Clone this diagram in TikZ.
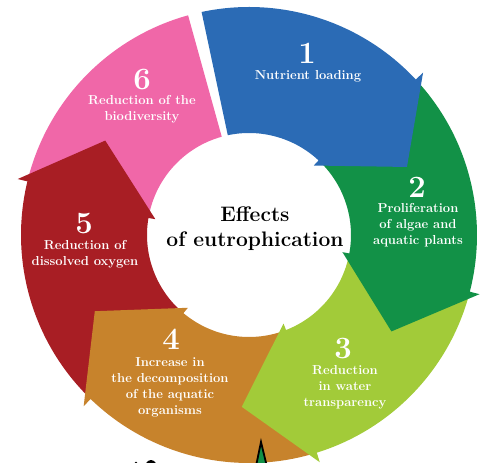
\documentclass[tikz,border=0pt]{standalone}
\usepackage{tikz}
\usetikzlibrary{positioning}
\usepackage{xcolor}

\definecolor{nutblue}{RGB}{43,107,181}
\definecolor{algaegreen}{RGB}{18,145,71}
\definecolor{lightgreen}{RGB}{162,203,57}
\definecolor{decorange}{RGB}{199,131,44}
\definecolor{oxyred}{RGB}{168,30,36}
\definecolor{biopink}{RGB}{240,103,168}

% ring radii (pt)
\def\rin{102}
\def\rout{228}
\def\rtip{172}

% one curved arrow of the ring: colour, tail angle outside, tail angle inside, head angle
\newcommand{\ringarrow}[4]{%
  \fill[#1] (#2:\rout) arc[start angle=#2, end angle=#4, radius=\rout]
    -- ({#4}:{\rout+10}) -- ({#4-19.7}:\rtip) -- ({#4+4}:{\rin-7}) -- ({#4+4}:\rin)
    arc[start angle={#4+4}, end angle=#3, radius=\rin] -- cycle;}

\tikzset{
  num/.style={text=white, font=\fontsize{31}{31}\selectfont\bfseries, inner sep=0pt},
  lbl/.style={text=white, font=\fontsize{13}{16}\selectfont\bfseries, align=center, inner sep=0pt},
  title/.style={text=black, font=\fontsize{21}{25}\selectfont\bfseries, align=center}
}

\begin{document}
\begin{tikzpicture}[x=1pt, y=1pt]
    \useasboundingbox (-249,-228) rectangle (241,235);
    \clip (-249,-228) rectangle (241,235);

    % Reduction of the biodiversity (flat end)
    \fill[biopink] (164.9:\rout) arc[start angle=164.9, end angle=105.5, radius=\rout]
        -- (105.5:\rin) arc[start angle=105.5, end angle=168.9, radius=\rin] -- cycle;

    % the other five arrows, each head laid over the next tail
    \ringarrow{oxyred}{-135.5}{-131.5}{-193.6}
    \ringarrow{decorange}{-74.2}{-70.2}{-134}
    \ringarrow{lightgreen}{-15.9}{-11.9}{-72.7}
    \ringarrow{algaegreen}{41.5}{45.5}{-14.4}
    \ringarrow{nutblue}{102}{102}{43}

    % pieces of the pictures below the ring
    \fill[black] (-98,-236) ellipse (7 and 11);
    \fill[black] (-113,-228) circle (1.5);
    \draw[line width=1.8pt, fill=algaegreen] (6,-236) -- (12,-207) -- (19,-236);

    % numbers and labels
    \node[num] (n1) at (58,182) {1};
    \node[lbl] (l1) at (59,159) {Nutrient loading};

    \node[num] (n2) at (168,48) {2};
    \node[lbl] (l2) at (169,10) {Proliferation\\of algae and\\aquatic plants};

    \node[num] (n3) at (94,-114) {3};
    \node[lbl] (l3) at (96,-152) {Reduction\\in water\\transparency};

    \node[num] (n4) at (-78,-104) {4};
    \node[lbl] (l4) at (-79,-152) {Increase in\\the decomposition\\of the aquatic\\organisms};

    \node[num] (n5) at (-165,11) {5};
    \node[lbl] (l5) at (-164,-19) {Reduction of\\dissolved oxygen};

    \node[num] (n6) at (-107,155) {6};
    \node[lbl] (l6) at (-107,126) {Reduction of the\\biodiversity};

    \node[title] (effects) at (6,6) {Effects\\of eutrophication};
\end{tikzpicture}
\end{document}
